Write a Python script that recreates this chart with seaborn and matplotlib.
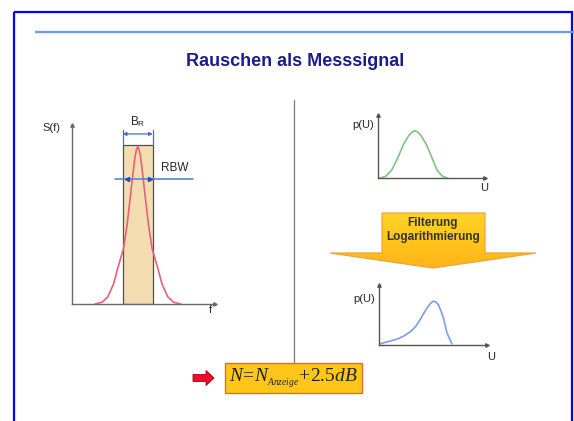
import numpy as np
import matplotlib.pyplot as plt
import seaborn as sns
from matplotlib.patches import Polygon, Rectangle, FancyArrow
from matplotlib.colors import LinearSegmentedColormap

# --- values ---
# left: noise spectrum S(f) seen through the resolution filter
f_vals = [1.6, 2.1, 2.5, 2.9, 3.2, 3.6, 3.85, 4.05, 4.25, 4.4, 4.5, 4.6,
          4.7, 4.8, 4.95, 5.15, 5.35, 5.6, 6.0, 6.3, 6.7, 7.1, 7.6]
s_vals = [0.0, 0.01, 0.04, 0.11, 0.2, 0.31, 0.44, 0.58, 0.72, 0.82, 0.86, 0.88,
          0.86, 0.82, 0.72, 0.58, 0.44, 0.31, 0.2, 0.11, 0.04, 0.01, 0.0]
br_center = 4.6
br_width = 2.1
br_height = 0.89
rbw_level = 0.70

# top right: amplitude distribution p(U) before filtering
u_top = [0.2, 0.75, 1.3, 1.85, 2.4, 2.9, 3.2, 3.45, 3.7, 4.0, 4.5, 5.05, 5.5, 6.0, 6.45]
p_top = [0.0, 0.03, 0.13, 0.32, 0.54, 0.68, 0.73, 0.75, 0.73, 0.68, 0.54, 0.32, 0.13, 0.03, 0.0]

# bottom right: distribution after filtering + logarithm
u_bot = [0.1, 0.9, 1.7, 2.3, 2.9, 3.4, 3.8, 4.15, 4.45, 4.75, 5.0, 5.25, 5.5, 5.75, 5.95, 6.3, 6.75]
p_bot = [0.02, 0.06, 0.1, 0.15, 0.22, 0.31, 0.42, 0.53, 0.62, 0.69, 0.73, 0.72, 0.67, 0.56, 0.46, 0.2, 0.02]

title = "Rauschen als Messsignal"
arrow_text = "Filterung\nLogarithmierung"
formula = r"$N\!=\!N_{{}_{Anzeige}}\!+\!\mathit{2.5}dB$"

# --- figure setup ---
sns.set_style("white")
plt.rcParams['font.family'] = ['Liberation Sans', 'DejaVu Sans']
plt.rcParams['mathtext.fontset'] = 'custom'
plt.rcParams['mathtext.it'] = 'Liberation Serif:italic'
plt.rcParams['mathtext.rm'] = 'Liberation Serif'

W, H = 574, 421
fig = plt.figure(figsize=(W / 100, H / 100), dpi=100)
fig.patch.set_facecolor('white')

# background axes in pixel units for the slide decoration
bg = fig.add_axes([0, 0, 1, 1])
bg.set_xlim(0, W)
bg.set_ylim(H, 0)
bg.axis('off')

bg.add_patch(Rectangle((14, 12), 558, 430, fill=False, edgecolor='#0000ff', lw=1.6))
bg.plot([35, W], [32, 32], color='#6f9cf0', lw=1.7, solid_capstyle='butt')
bg.text(295, 61, title, ha='center', va='center', fontsize=13, weight='bold', color='#1c1c8c')
bg.plot([294, 294], [100, 363], color='#7a7a7a', lw=0.9)

# yellow arrow with gradient
arrow_pts = [(382, 213), (485, 213), (485, 253), (536, 253), (433, 268), (330, 253), (382, 253)]
poly = Polygon(arrow_pts, closed=True, facecolor='none', edgecolor='#f2a23a', lw=0.9, zorder=3)
bg.add_patch(poly)
cmap = LinearSegmentedColormap.from_list('yel', ['#ffd42a', '#ffc61a', '#ffb21a'])
grad = np.linspace(0, 1, 60).reshape(-1, 1)
img = bg.imshow(grad, extent=(328, 538, 270, 211), aspect='auto', cmap=cmap, origin='upper', zorder=2)
img.set_clip_path(poly)
bg.set_xlim(0, W)
bg.set_ylim(H, 0)
bg.text(433, 230, arrow_text, ha='center', va='center', fontsize=8.5, weight='bold',
        color='#333333', linespacing=1.15, zorder=4)

# formula box and red arrow
bg.add_patch(Rectangle((225, 363), 137, 30, facecolor='#ffc61a', edgecolor='#ee6a22', lw=1.0, zorder=3))
bg.text(293.5, 378, formula, ha='center', va='center', fontsize=14, color='#222222', zorder=4)
bg.add_patch(FancyArrow(193, 378, 21, 0, width=7, head_width=15, head_length=8,
                        length_includes_head=True, facecolor='#e8102a', edgecolor='#a00010', lw=0.6))


def pix_axes(x0, y0, x1, y1):
    ax = fig.add_axes([x0 / W, 1 - y1 / H, (x1 - x0) / W, (y1 - y0) / H])
    ax.set_facecolor('none')
    return ax


def style_axes(ax, color):
    ax.set_xlim(0, 10)
    ax.set_ylim(0, 1)
    sns.despine(ax=ax)
    for side in ['left', 'bottom']:
        ax.spines[side].set_color(color)
        ax.spines[side].set_linewidth(1.0)
    ax.set_xticks([])
    ax.set_yticks([])
    ax.set_xlabel('')
    ax.set_ylabel('')
    ax.plot(1, 0, '>', transform=ax.transAxes, clip_on=False, ms=2.5, color=color)
    ax.plot(0, 1, '^', transform=ax.transAxes, clip_on=False, ms=2.5, color=color)


txt = '#262626'

# left: S(f)
ax1 = pix_axes(72, 125, 215, 304)
ax1.bar(br_center, br_height, width=br_width, color='#f3ddb0', edgecolor='#505050', lw=0.9, zorder=1)
sns.lineplot(x=f_vals, y=s_vals, ax=ax1, color='#e8607a', lw=1.2, zorder=3)
style_axes(ax1, '#666a78')
left, right = br_center - br_width / 2, br_center + br_width / 2
ax1.plot([left, left], [br_height, 0.97], color='#3c6fd8', lw=0.9, clip_on=False)
ax1.plot([right, right], [br_height, 0.97], color='#3c6fd8', lw=0.9, clip_on=False)
ax1.annotate('', xy=(left, 0.95), xytext=(right, 0.95),
             arrowprops=dict(arrowstyle='<|-|>', color='#3c6fd8', lw=0.9, mutation_scale=5,
                             shrinkA=0, shrinkB=0))
ax1.text(br_center, 1.02, r'B$_\mathregular{R}$', ha='center', va='center', fontsize=8.5,
         color=txt, family='Liberation Sans')
ax1.plot([3.0, 8.45], [rbw_level, rbw_level], color='#5a84d6', lw=1.2, zorder=4, clip_on=False)
ax1.plot([br_center - 0.78], [rbw_level], '<', ms=3, color='#2050c0', zorder=5)
ax1.plot([br_center + 0.82], [rbw_level], '>', ms=3, color='#2050c0', zorder=5)
ax1.text(7.2, 0.76, 'RBW', ha='center', va='center', fontsize=8.5, color=txt)
ax1.text(-1.4, 0.985, 'S(f)', ha='center', va='center', fontsize=8, color=txt)
ax1.text(9.65, -0.035, 'f', ha='center', va='center', fontsize=8, color=txt)

# top right: p(U) before
ax2 = pix_axes(378, 115, 485, 178)
sns.lineplot(x=u_top, y=p_top, ax=ax2, color='#7fc47f', lw=1.2)
style_axes(ax2, '#555555')
ax2.text(-1.4, 0.84, 'p(U)', ha='center', va='center', fontsize=8, color=txt)
ax2.text(9.9, -0.16, 'U', ha='center', va='center', fontsize=8, color=txt)

# bottom right: p(U) after
ax3 = pix_axes(379, 285, 487, 345)
sns.lineplot(x=u_bot, y=p_bot, ax=ax3, color='#7a9ee8', lw=1.2)
style_axes(ax3, '#555555')
ax3.text(-1.4, 0.77, 'p(U)', ha='center', va='center', fontsize=8, color=txt)
ax3.text(10.4, -0.2, 'U', ha='center', va='center', fontsize=8, color=txt)

fig.savefig("out.png", dpi=100)
